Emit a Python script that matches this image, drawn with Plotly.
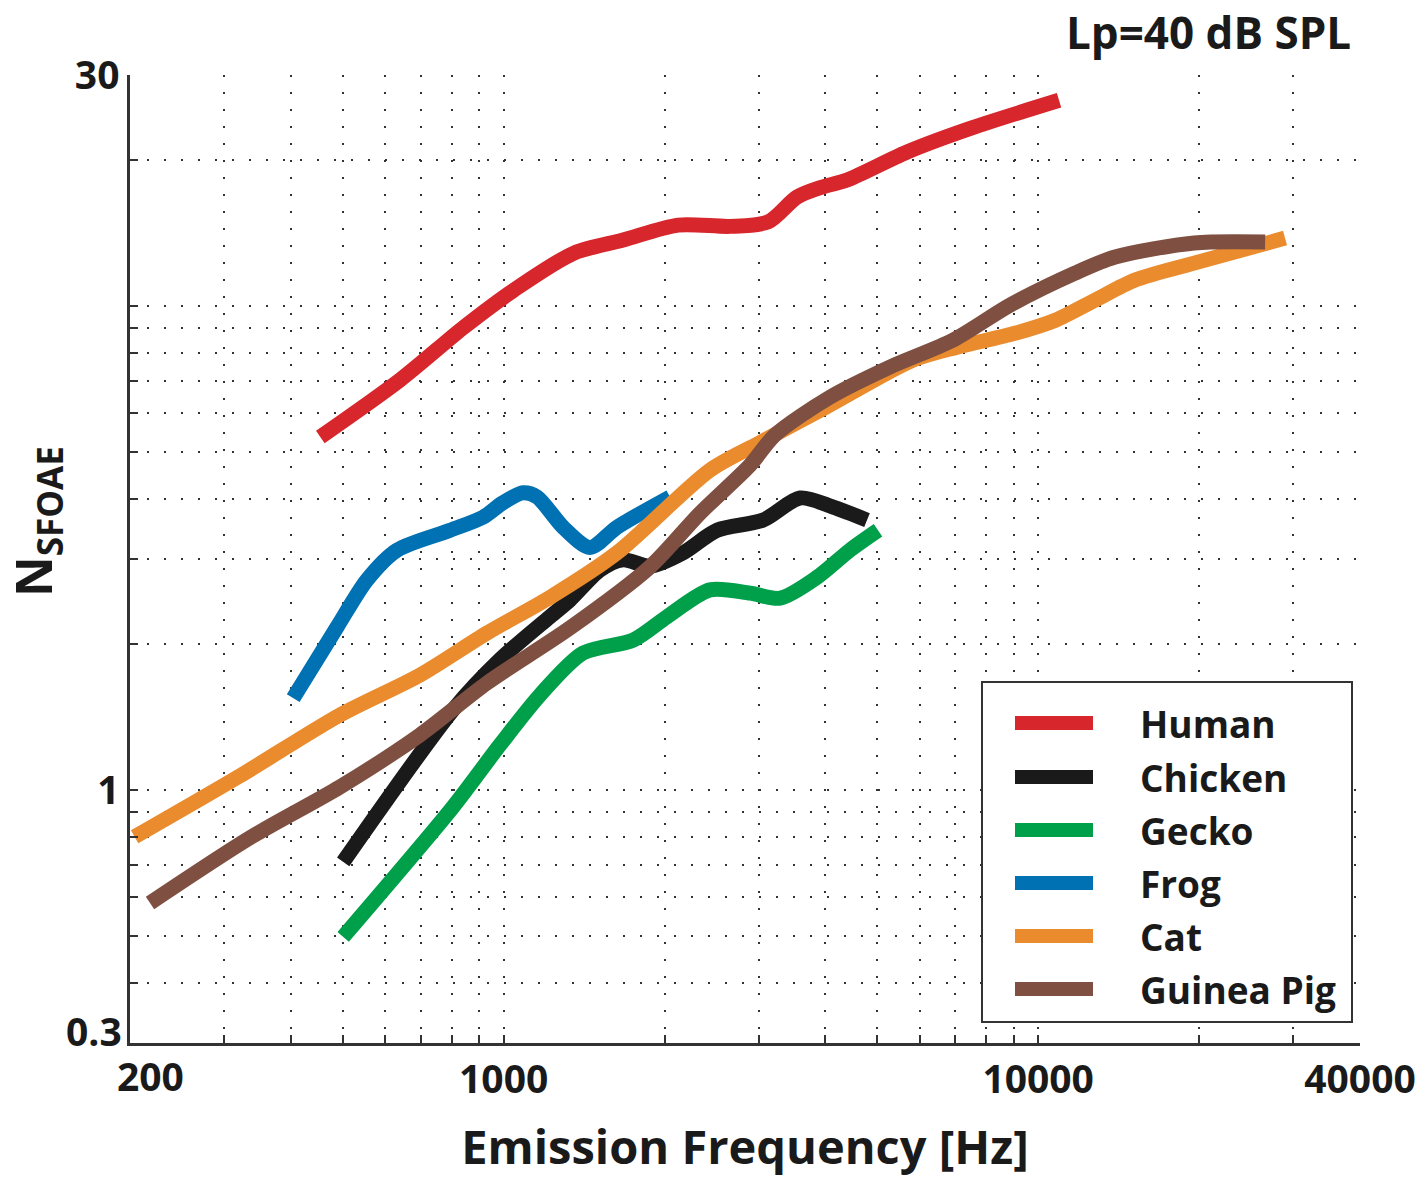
import plotly.graph_objects as go

# ---------------- data ----------------
human_f = [454, 640, 843, 1046, 1354, 1673, 2120, 2652, 3124, 3540, 3943, 4390, 5686, 7490, 10940]
human_n = [5.36, 7.03, 9.04, 10.79, 12.86, 13.68, 14.69, 14.6, 14.91, 16.79, 17.6, 18.2, 20.8, 23.3, 26.6]

chicken_f = [501, 804, 985, 1221, 1331, 1514, 1672, 1879, 2166, 2508, 3058, 3586, 4134, 4784]
chicken_n = [0.71, 1.463, 1.86, 2.28, 2.47, 2.846, 2.99, 2.9, 3.09, 3.44, 3.61, 4.01, 3.84, 3.61]

gecko_f = [501, 804, 985, 1170, 1408, 1747, 2022, 2433, 2891, 3290, 3858, 4446, 5016]
gecko_n = [0.497, 0.922, 1.24, 1.571, 1.918, 2.04, 2.28, 2.59, 2.55, 2.49, 2.75, 3.13, 3.44]

frog_f = [404, 488, 555, 632, 794, 915, 997, 1087, 1155, 1292, 1451, 1630, 2048]
frog_n = [1.548, 2.171, 2.715, 3.13, 3.44, 3.66, 3.92, 4.11, 4.03, 3.49, 3.17, 3.49, 4.03]

cat_f = [204, 321, 494, 698, 931, 1221, 1630, 2433, 3006, 4010, 5834, 7052, 9090, 10800, 12780, 15180, 19580, 28960]
cat_n = [0.80, 1.069, 1.428, 1.728, 2.11, 2.50, 3.09, 4.58, 5.21, 6.18, 7.73, 8.22, 8.79, 9.35, 10.28, 11.31, 12.26, 13.81]

gpig_f = [218, 335, 494, 698, 931, 1331, 1879, 2330, 2891, 3218, 4080, 5284, 6930, 8860, 11720, 13930, 19580, 26580]
gpig_n = [0.584, 0.796, 1.014, 1.30, 1.663, 2.161, 2.89, 3.73, 4.69, 5.41, 6.48, 7.48, 8.50, 10.04, 11.69, 12.62, 13.49, 13.55]

series_names = ["Human", "Chicken", "Gecko", "Frog", "Cat", "Guinea Pig"]
series_colors = ["#D7262C", "#1A1A1A", "#00A04A", "#0071B2", "#EA8C2E", "#7F5041"]

x_tickvals = [200, 300, 400, 500, 600, 700, 800, 900, 1000, 2000, 3000, 4000, 5000,
              6000, 7000, 8000, 9000, 10000, 20000, 30000, 40000]
x_labelled = {1000: "1000", 10000: "10000", 40000: "40000"}
y_tickvals = [0.3, 0.4, 0.5, 0.6, 0.7, 0.8, 0.9, 1, 2, 3, 4, 5, 6, 7, 8, 9, 10, 20, 30]
y_labelled = {1: "1", 30: "30"}

FONT = "Open Sans"
TXT = "#1a1a1a"

# plot area in pixels (for converting paper positions)
L, R, T, B = 130, 1360, 75, 1043


def px(xp):
    return (xp - L) / (R - L)


def py(yp):
    return (B - yp) / (B - T)


fig = go.Figure()
all_series = [(human_f, human_n), (chicken_f, chicken_n), (gecko_f, gecko_n),
              (frog_f, frog_n), (cat_f, cat_n), (gpig_f, gpig_n)]
for (fx, ny), name, col in zip(all_series, series_names, series_colors):
    fig.add_trace(go.Scatter(
        x=fx, y=ny, name=name, mode="lines", showlegend=False,
        line=dict(color=col, width=15, shape="spline", smoothing=0.8),
    ))

grid_style = dict(showgrid=True, gridcolor="#333333", gridwidth=1.5, griddash="2px,15px")

fig.update_xaxes(
    type="log", range=[2.30103, 4.60206], automargin=False,
    tickvals=x_tickvals, ticktext=[x_labelled.get(v, "") for v in x_tickvals],
    ticks="inside", ticklen=8, tickwidth=2, tickcolor="#333333",
    showline=True, linecolor="#333333", linewidth=2.5, mirror=False,
    zeroline=False,
    tickfont=dict(family=FONT, size=39, color=TXT, weight="bold"),
    title=dict(text="Emission Frequency [Hz]", standoff=30,
               font=dict(family=FONT, size=47, color=TXT, weight="bold")),
    **grid_style,
)
fig.update_yaxes(
    type="log", range=[-0.522879, 1.477121], automargin=False,
    tickvals=y_tickvals, ticktext=[y_labelled.get(v, "") for v in y_tickvals],
    ticks="inside", ticklen=8, tickwidth=2, tickcolor="#333333",
    showline=True, linecolor="#333333", linewidth=2.5, mirror=False,
    zeroline=False,
    tickfont=dict(family=FONT, size=39, color=TXT, weight="bold"),
    **grid_style,
)

# edge tick labels (shifted inwards as in the reference)
fig.add_annotation(text="0.3", xref="paper", yref="paper", x=px(124), y=py(1030),
                   xanchor="right", yanchor="middle", showarrow=False,
                   font=dict(family=FONT, size=39, color=TXT, weight="bold"))
fig.add_annotation(text="200", xref="paper", yref="paper", x=px(150), y=py(1075),
                   xanchor="center", yanchor="middle", showarrow=False,
                   font=dict(family=FONT, size=39, color=TXT, weight="bold"))

# y-axis title
fig.add_annotation(text="N<sub>SFOAE</sub>", xref="paper", yref="paper",
                   x=px(36), y=py(522), xanchor="center", yanchor="middle",
                   textangle=-90, showarrow=False,
                   font=dict(family=FONT, size=50, color=TXT, weight="bold"))

fig.add_annotation(
    text="Lp=40 dB SPL", xref="paper", yref="paper", x=px(1208), y=py(32),
    xanchor="center", yanchor="middle", showarrow=False,
    font=dict(family=FONT, size=44, color=TXT, weight="bold"),
)

# legend box (drawn to match the reference's long, thick samples)
fig.add_shape(type="rect", xref="paper", yref="paper",
              x0=px(982), x1=px(1352), y0=py(1022), y1=py(682),
              line=dict(color="#333333", width=2), fillcolor="white", layer="above")
row_y = [723, 777, 830, 883, 936, 989]
for name, col, yy in zip(series_names, series_colors, row_y):
    fig.add_shape(type="line", xref="paper", yref="paper",
                  x0=px(1015), x1=px(1093), y0=py(yy), y1=py(yy),
                  line=dict(color=col, width=14), layer="above")
    fig.add_annotation(text=name, xref="paper", yref="paper", x=px(1138), y=py(yy),
                       xanchor="left", yanchor="middle", showarrow=False,
                       font=dict(family=FONT, size=37, color=TXT, weight="bold"))

fig.update_layout(
    width=1420, height=1178,
    margin=dict(l=L, r=1420 - R, t=T, b=1178 - B),
    paper_bgcolor="white", plot_bgcolor="white",
    showlegend=False,
)

fig.write_html("out.html")
